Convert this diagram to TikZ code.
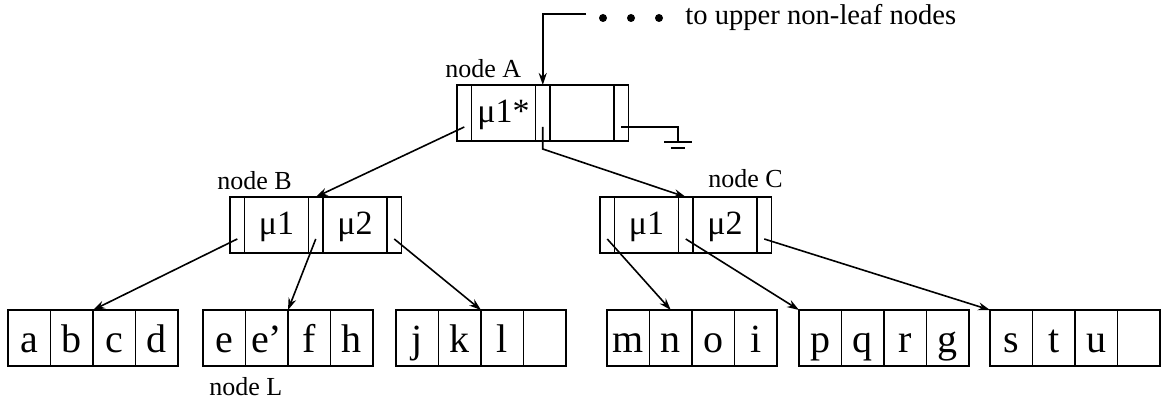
\documentclass[tikz,border=0pt]{standalone}
\usepackage{fontspec}
\setmainfont{Liberation Serif}
\usetikzlibrary{positioning,arrows.meta,calc}

\tikzset{
  ptrbox/.style={draw, line width=0.8pt, minimum width=7.25pt, minimum height=28pt, inner sep=0pt, outer sep=0pt},
  keybox/.style={ptrbox, minimum width=32pt, font=\fontsize{17}{20}\selectfont, text height=11pt, text depth=1pt},
  leafbox/.style={ptrbox, minimum width=21.25pt, font=\fontsize{20}{22}\selectfont, text height=15pt, text depth=0pt},
  lbl/.style={font=\fontsize{13}{15}\selectfont, inner sep=0pt, anchor=base west},
  link/.style={line width=0.8pt, -{Stealth[length=6pt,width=4pt]}}
}

\begin{document}
\begin{tikzpicture}[x=0.5pt,y=-0.5pt]
\useasboundingbox (0,0) rectangle (1161,400);

% The non-leaf nodes
\node[ptrbox, anchor=north west] (A0) at (457,85) {};
\node[keybox, right=0pt of A0] (A1) {μ1*};
\node[ptrbox, right=0pt of A1] (A2) {};
\node[keybox, right=0pt of A2] (A3) {};
\node[ptrbox, right=0pt of A3] (A4) {};

\node[ptrbox, anchor=north west] (B0) at (230,197) {};
\node[keybox, right=0pt of B0] (B1) {μ1};
\node[ptrbox, right=0pt of B1] (B2) {};
\node[keybox, right=0pt of B2] (B3) {μ2};
\node[ptrbox, right=0pt of B3] (B4) {};

\node[ptrbox, anchor=north west] (C0) at (600,197) {};
\node[keybox, right=0pt of C0] (C1) {μ1};
\node[ptrbox, right=0pt of C1] (C2) {};
\node[keybox, right=0pt of C2] (C3) {μ2};
\node[ptrbox, right=0pt of C3] (C4) {};

% The leaf nodes
\node[leafbox, anchor=north west] (a) at (8,310) {a};
\node[leafbox, right=0pt of a] (b) {b};
\node[leafbox, right=0pt of b] (c) {c};
\node[leafbox, right=0pt of c] (d) {d};

\node[leafbox, anchor=north west] (e) at (203,310) {e};
\node[leafbox, right=0pt of e] (e2) {e’};
\node[leafbox, right=0pt of e2] (f) {f};
\node[leafbox, right=0pt of f] (h) {h};

\node[leafbox, anchor=north west] (j) at (396,310) {j};
\node[leafbox, right=0pt of j] (k) {k};
\node[leafbox, right=0pt of k] (l) {l};
\node[leafbox, right=0pt of l] (x3) {};

\node[leafbox, anchor=north west] (m) at (607,310) {m};
\node[leafbox, right=0pt of m] (n) {n};
\node[leafbox, right=0pt of n] (o) {o};
\node[leafbox, right=0pt of o] (i) {i};

\node[leafbox, anchor=north west] (p) at (799,310) {p};
\node[leafbox, right=0pt of p] (q) {q};
\node[leafbox, right=0pt of q] (r) {r};
\node[leafbox, right=0pt of r] (g) {g};

\node[leafbox, anchor=north west] (s) at (990,310) {s};
\node[leafbox, right=0pt of s] (t) {t};
\node[leafbox, right=0pt of t] (u) {u};
\node[leafbox, right=0pt of u] (x6) {};

% The labels
\node[lbl] (labA) at (445,78) {node A};
\node[lbl] (labB) at (217,190) {node B};
\node[lbl] (labC) at (708,188) {node C};
\node[lbl] (labL) at (209,395) {node L};
\node[lbl, font=\fontsize{14.3}{17}\selectfont] (upper) at (685,25) {to upper non-leaf nodes};

% The pointers
\coordinate (up) at (586,14);
\draw[link] (up) -| (A2.north);
\foreach \x in {603,631,659} \fill (\x,18) circle (2pt);

\draw[link] ($(A0)!.5!(A0.south)$) -- (B2.north);
\draw[link] ($(A2)!.5!(A2.south)$) -- ++(0,22) -- (C2.north);

\coordinate (gnd) at (678,142);
\draw[line width=0.8pt] ($(A4)!.5!(A4.south)$) -| (gnd);
\draw[line width=0.8pt] (gnd) ++(-14,0) -- ++(28,0);
\draw[line width=0.8pt] ($(gnd)+(-7,6)$) -- ++(14,0);

\draw[link] ($(B0)!.5!(B0.south)$) -- (b.north east);
\draw[link] ($(B2)!.5!(B2.south)$) -- (e2.north east);
\draw[link] ($(B4)!.5!(B4.south)$) -- (k.north east);

\draw[link] ($(C0)!.5!(C0.south)$) -- (n.north);
\draw[link] ($(C2)!.5!(C2.south)$) -- (p.north west);
\draw[link] ($(C4)!.5!(C4.south)$) -- (s.north west);
\end{tikzpicture}
\end{document}
